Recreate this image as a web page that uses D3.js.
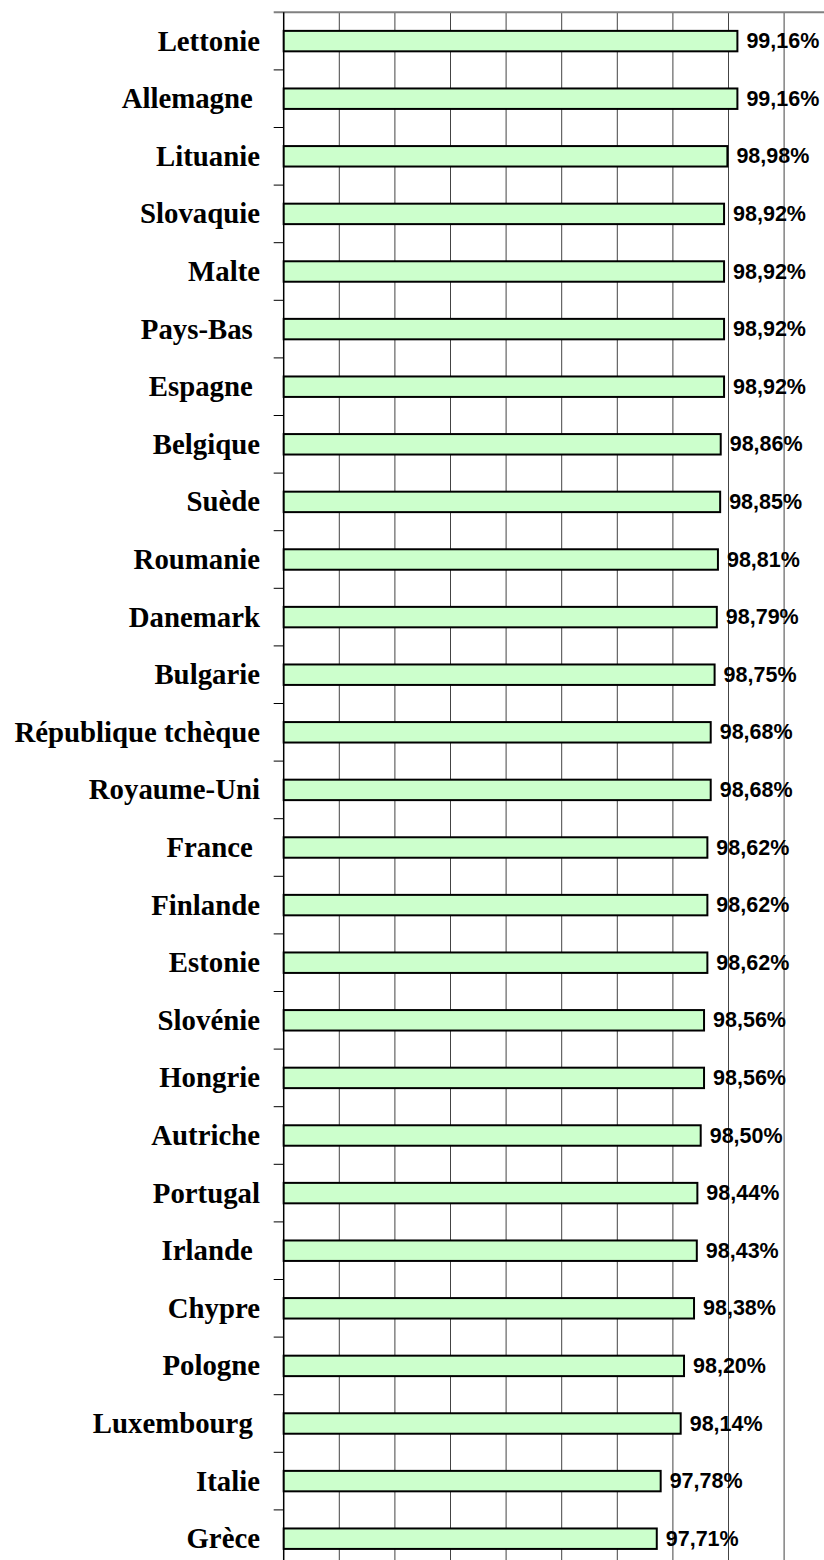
<!DOCTYPE html>
<html>
<head>
<meta charset="utf-8">
<script src="https://cdn.jsdelivr.net/npm/d3@7"></script>
<style>
  body { margin: 0; background: #fff; }
  svg { display: block; }
</style>
</head>
<body>
<div id="chart"></div>
<script>
// categories (trailing spaces kept as in the original labels)
var pays = ["Lettonie", "Allemagne ", "Lituanie", "Slovaquie", "Malte", "Pays-Bas ", "Espagne ",
    "Belgique", "Suède", "Roumanie", "Danemark", "Bulgarie", "République tchèque", "Royaume-Uni",
    "France ", "Finlande", "Estonie", "Slovénie", "Hongrie", "Autriche", "Portugal", "Irlande ",
    "Chypre", "Pologne", "Luxembourg ", "Italie", "Grèce"];
var taux = [99.16, 99.16, 98.98, 98.92, 98.92, 98.92, 98.92, 98.86, 98.85, 98.81, 98.79, 98.75,
    98.68, 98.68, 98.62, 98.62, 98.62, 98.56, 98.56, 98.50, 98.44, 98.43, 98.38, 98.20, 98.14,
    97.78, 97.71];
var xTicks = [91, 92, 93, 94, 95, 96, 97, 98, 99, 100];

var width = 824, height = 1560;
var plotLeft = 283.7, plotTop = 12.3, step = 57.6;

var data = pays.map(function(p, i) { return { pays: p, val: taux[i] }; });

var x = d3.scaleLinear()
    .domain([91, 100])
    .range([plotLeft, plotLeft + 9 * 55.6]);
var y = d3.scaleBand()
    .domain(pays)
    .range([plotTop, plotTop + pays.length * step])
    .padding(0);

var svg = d3.select("#chart").append("svg")
    .attr("width", width)
    .attr("height", height);

// vertical gridlines
svg.append("g").selectAll("line")
    .data(xTicks.slice(1))
    .enter().append("line")
    .attr("x1", function(d) { return x(d) }).attr("x2", function(d) { return x(d) })
    .attr("y1", plotTop).attr("y2", height)
    .attr("stroke", "#444").attr("stroke-width", 1);

// top border
svg.append("line")
    .attr("x1", plotLeft - 10).attr("x2", width)
    .attr("y1", plotTop).attr("y2", plotTop)
    .attr("stroke", "#808080").attr("stroke-width", 2);

// category ticks on the left
svg.append("g").selectAll("line")
    .data(pays.slice(1))
    .enter().append("line")
    .attr("x1", plotLeft - 10).attr("x2", plotLeft)
    .attr("y1", function(d) { return y(d) }).attr("y2", function(d) { return y(d) })
    .attr("stroke", "#000").attr("stroke-width", 1);

// axis line
svg.append("line")
    .attr("x1", plotLeft).attr("x2", plotLeft)
    .attr("y1", plotTop).attr("y2", height)
    .attr("stroke", "#000").attr("stroke-width", 1.5);

var barH = y.bandwidth() * 0.355;

svg.append("g").selectAll("rect")
    .data(data)
    .enter().append("rect")
    .attr("x", x(91))
    .attr("y", function(d) { return y(d.pays) + y.bandwidth() / 2 - barH / 2 })
    .attr("width", function(d) { return x(d.val) - x(91) })
    .attr("height", barH)
    .attr("fill", "#CCFFCC")
    .attr("stroke", "#000")
    .attr("stroke-width", 2);

// country labels
svg.append("g").selectAll("text")
    .data(data)
    .enter().append("text")
    .attr("x", 260)
    .attr("y", function(d) { return y(d.pays) + y.bandwidth() / 2 })
    .attr("dy", "0.33em")
    .attr("text-anchor", "end")
    .attr("font-family", "'Liberation Serif', 'Times New Roman', serif")
    .attr("font-weight", "bold")
    .attr("font-size", "28.8px")
    .style("white-space", "pre")
    .text(function(d) { return d.pays });

// value labels
svg.append("g").selectAll("text")
    .data(data)
    .enter().append("text")
    .attr("x", function(d) { return x(d.val) + 9 })
    .attr("y", function(d) { return y(d.pays) + y.bandwidth() / 2 })
    .attr("dy", "0.33em")
    .attr("font-family", "'Liberation Sans', Arial, sans-serif")
    .attr("font-weight", "bold")
    .attr("font-size", "21.5px")
    .text(function(d) { return d.val.toFixed(2).replace(".", ",") + "%" });
</script>
</body>
</html>
